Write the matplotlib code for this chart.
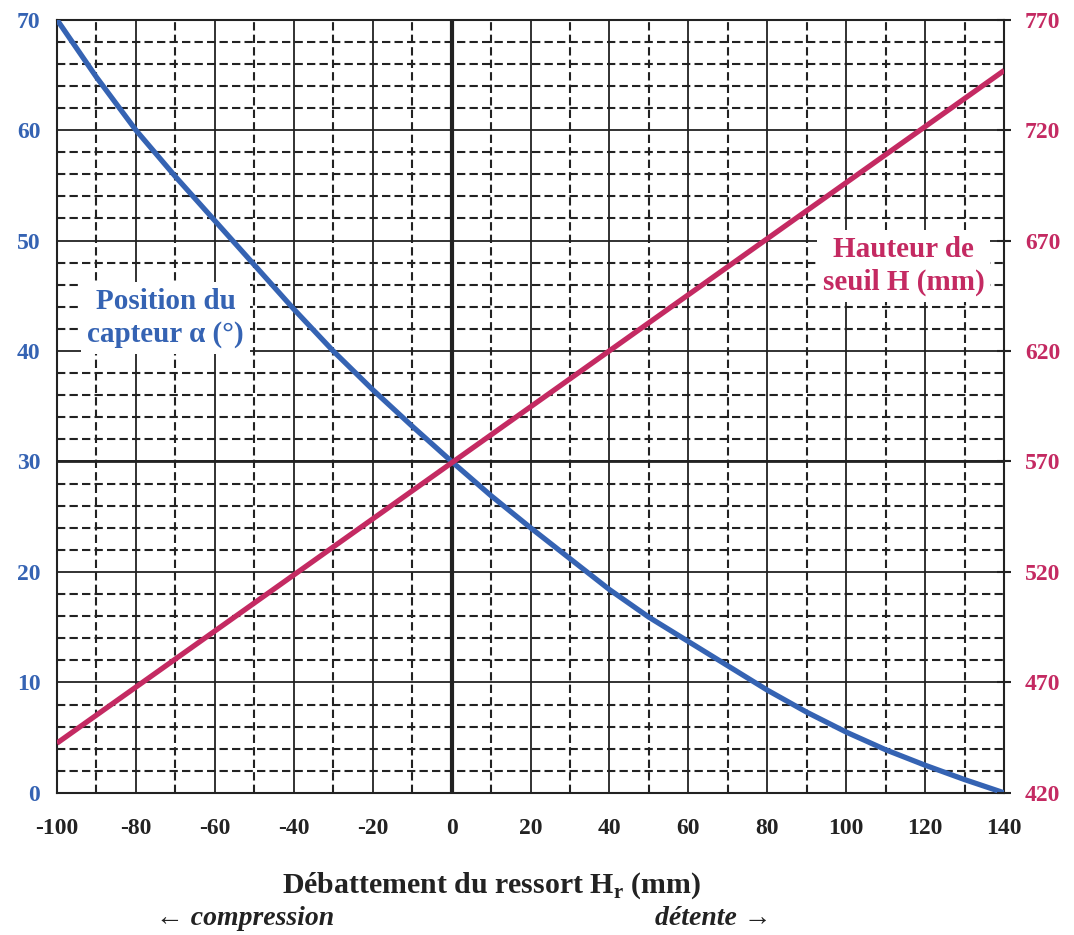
import numpy as np
import matplotlib
matplotlib.use("Agg")
from matplotlib import pyplot as plt
from matplotlib.ticker import MultipleLocator

# données
hr = [-100, -90, -80, -70, -60, -50, -40, -30, -20, -10, 0, 10, 20,
      30, 40, 50, 60, 70, 80, 90, 100, 110, 120, 130, 140]
alpha = [70, 64.8, 60, 55.8, 51.8, 47.8, 43.8, 40, 36.5, 33.2, 30, 26.9, 24,
         21.2, 18.4, 15.9, 13.7, 11.5, 9.3, 7.3, 5.5, 3.9, 2.5, 1.2, 0]
hr_seuil = [-100, 140]
h_seuil = [442.5, 747]

x_ticks = [-100, -80, -60, -40, -20, 0, 20, 40, 60, 80, 100, 120, 140]
left_ticks = [0, 10, 20, 30, 40, 50, 60, 70]
right_ticks = [420, 470, 520, 570, 620, 670, 720, 770]

blue = "#3563b3"
red = "#c42a62"
grid_col = "#222222"

plt.rcParams['font.family'] = ['Liberation Serif', 'DejaVu Serif']
plt.rcParams['axes.unicode_minus'] = False

fig = plt.figure(figsize=(10.74, 9.35), dpi=100)
fig.patch.set_facecolor("white")
ax = fig.add_axes([0.053, 0.152, 0.882, 0.827])

ax.set_xlim(-100, 140)
ax.set_ylim(0, 70)
ax.set_xticks(x_ticks)
ax.set_yticks(left_ticks)
ax.xaxis.set_minor_locator(MultipleLocator(10))
ax.yaxis.set_minor_locator(MultipleLocator(2))

ax.grid(which="major", color=grid_col, linewidth=1.3, linestyle="-")
ax.grid(which="minor", color=grid_col, linewidth=1.5, linestyle=(0, (4, 2)))
ax.set_axisbelow(True)
ax.axvline(0, color=grid_col, linewidth=3, zorder=1)
ax.axhline(30, color=grid_col, linewidth=2, zorder=1)

for s in ax.spines.values():
    s.set_color(grid_col)
    s.set_linewidth(1.5)

ax.tick_params(which="both", length=0)
ax.tick_params(axis="x", pad=18, labelsize=17, labelcolor="#222222")
ax.tick_params(axis="y", pad=12, labelsize=17, labelcolor=blue)
for lab in ax.get_xticklabels() + ax.get_yticklabels():
    lab.set_fontweight("bold")

ax.plot(hr, alpha, color=blue, linewidth=3.8, zorder=4, solid_capstyle="butt")

ax2 = ax.twinx()
ax2.set_ylim(420, 770)
ax2.set_yticks(right_ticks)
ax2.tick_params(axis="y", direction="inout", length=10, width=1.5, color=grid_col,
                pad=10, labelsize=17, labelcolor=red)
for lab in ax2.get_yticklabels():
    lab.set_fontweight("bold")
for s in ax2.spines.values():
    s.set_visible(False)
ax2.plot(hr_seuil, h_seuil, color=red, linewidth=3.8, zorder=4, solid_capstyle="butt")

ax2.text(-72.5, 43, "Position du\ncapteur \u03b1 (\u00b0)", transform=ax.transData,
         color=blue, fontsize=21, fontweight="bold", ha="center", va="center",
         linespacing=1.3, zorder=5,
         bbox=dict(boxstyle="square,pad=0.2", facecolor="white", edgecolor="none"))
ax2.text(114.5, 47.7, "Hauteur de\nseuil H (mm)", transform=ax.transData,
         color=red, fontsize=21, fontweight="bold", ha="center", va="center",
         linespacing=1.3, zorder=5,
         bbox=dict(boxstyle="square,pad=0.2", facecolor="white", edgecolor="none"))

fig.text(0.458, 0.053, "D\u00e9battement du ressort H$_\\mathregular{r}$ (mm)",
         fontsize=21.5, fontweight="bold", ha="center", va="center", color="#222222")
fig.text(0.228, 0.018, "\u2190 compression", fontsize=20, fontweight="bold",
         style="italic", ha="center", va="center", color="#222222",
         family=["Liberation Serif", "DejaVu Serif"])
fig.text(0.664, 0.018, "d\u00e9tente \u2192", fontsize=20, fontweight="bold",
         style="italic", ha="center", va="center", color="#222222",
         family=["Liberation Serif", "DejaVu Serif"])

fig.save = None
fig.savefig("out.png", dpi=100)
